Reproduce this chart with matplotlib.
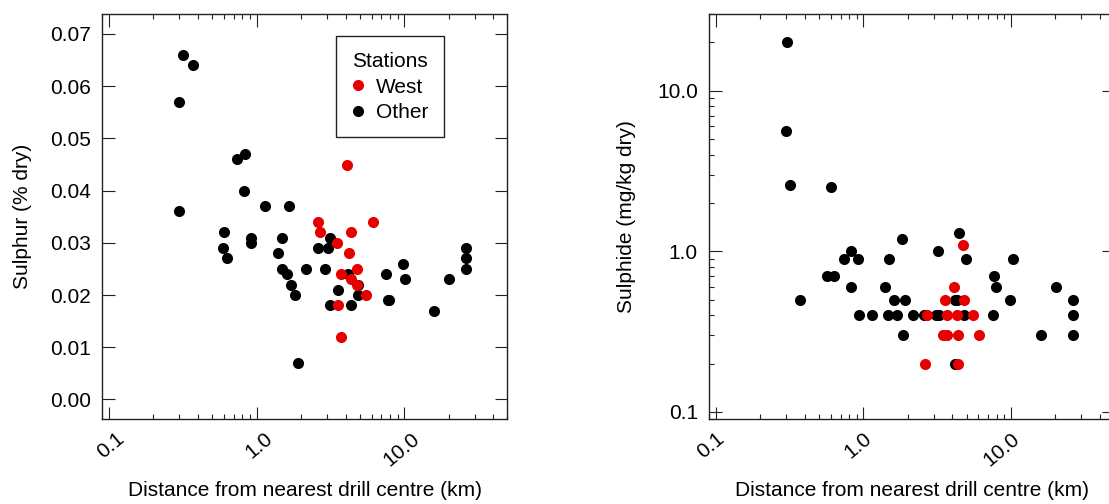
import matplotlib
matplotlib.use("Agg")
import matplotlib.pyplot as plt
from matplotlib.ticker import FixedLocator, FixedFormatter, LogLocator, NullFormatter
from matplotlib.transforms import ScaledTranslation

plt.rcParams["font.family"] = ["Liberation Sans", "DejaVu Sans"]

# Sulphur (% dry) vs distance (km)
sulphur_west_dist = [2.6, 2.7, 3.5, 3.55, 3.7, 3.75, 4.1, 4.25, 4.35, 4.35, 4.75, 4.8, 5.5, 6.1]
sulphur_west = [0.034, 0.032, 0.030, 0.018, 0.024, 0.012, 0.045, 0.028, 0.032, 0.023, 0.022, 0.025, 0.020, 0.034]
sulphur_other_dist = [0.30, 0.30, 0.315, 0.37, 0.59, 0.60, 0.63, 0.74, 0.82, 0.84, 0.915, 0.915,
                      1.14, 1.40, 1.48, 1.48, 1.61, 1.66, 1.70, 1.83, 1.90, 2.16, 2.59, 2.92,
                      3.06, 3.15, 3.15, 3.54, 4.17, 4.35, 4.85, 4.88, 7.56, 7.7, 7.85, 9.85,
                      10.1, 16.0, 20.0, 26.0, 26.0, 26.0]
sulphur_other = [0.036, 0.057, 0.066, 0.064, 0.029, 0.032, 0.027, 0.046, 0.040, 0.047, 0.031, 0.030,
                 0.037, 0.028, 0.031, 0.025, 0.024, 0.037, 0.022, 0.020, 0.007, 0.025, 0.029, 0.025,
                 0.029, 0.031, 0.018, 0.021, 0.024, 0.018, 0.022, 0.020, 0.024, 0.019, 0.019, 0.026,
                 0.023, 0.017, 0.023, 0.029, 0.027, 0.025]

# Sulphide (mg/kg dry) vs distance (km)
sulphide_west_dist = [2.6, 2.7, 3.48, 3.55, 3.7, 3.7, 4.11, 4.28, 4.37, 4.4, 4.73, 4.8, 5.56, 6.07]
sulphide_west = [0.2, 0.4, 0.3, 0.5, 0.4, 0.3, 0.6, 0.4, 0.2, 0.3, 1.1, 0.5, 0.4, 0.3]
sulphide_other_dist = [0.30, 0.305, 0.318, 0.372, 0.57, 0.60, 0.63, 0.74, 0.83, 0.83, 0.925, 0.93,
                       1.15, 1.41, 1.49, 1.47, 1.61, 1.70, 1.82, 1.85, 1.90, 2.18, 2.57, 3.09,
                       3.18, 3.25, 4.15, 4.17, 4.30, 4.44, 4.80, 4.93, 7.59, 7.66, 7.87, 9.84,
                       10.3, 15.9, 20.1, 26.4, 26.4, 26.4]
sulphide_other = [5.6, 20.0, 2.6, 0.5, 0.7, 2.5, 0.7, 0.9, 1.0, 0.6, 0.9, 0.4,
                  0.4, 0.6, 0.9, 0.4, 0.5, 0.4, 1.2, 0.3, 0.5, 0.4, 0.4, 0.4,
                  1.0, 0.4, 0.2, 0.5, 0.5, 1.3, 0.4, 0.9, 0.4, 0.7, 0.6, 0.5,
                  0.9, 0.3, 0.6, 0.5, 0.4, 0.3]

x_ticks = [0.1, 1.0, 10.0]
x_tick_labels = ["0.1", "1.0", "10.0"]
sulphur_ticks = [0.00, 0.01, 0.02, 0.03, 0.04, 0.05, 0.06, 0.07]
sulphide_ticks = [0.1, 1.0, 10.0]
sulphide_tick_labels = ["0.1", "1.0", "10.0"]

RED = "#e60000"
BLACK = "#000000"
FS = 15
MS = 8

fig = plt.figure(figsize=(11.09, 5.04), dpi=100)
ax1 = fig.add_axes([0.0922, 0.168, 0.3654, 0.804])
ax2 = fig.add_axes([0.6393, 0.168, 0.3654, 0.804])


def style_axes(ax):
    ax.set_xscale("log")
    ax.set_xlim(0.09, 50)
    ax.xaxis.set_major_locator(FixedLocator(x_ticks))
    ax.xaxis.set_major_formatter(FixedFormatter(x_tick_labels))
    ax.xaxis.set_minor_locator(LogLocator(base=10, subs=range(2, 10)))
    ax.xaxis.set_minor_formatter(NullFormatter())
    ax.tick_params(which="both", direction="in", top=True, right=True, width=0.8, colors="#222222",
                   labelcolor="black", labelsize=FS)
    ax.tick_params(which="major", length=9)
    ax.tick_params(which="minor", length=3.5)
    ax.tick_params(axis="x", which="major", pad=7)
    ax.tick_params(axis="y", which="major", pad=8)
    for lbl in ax.get_xticklabels():
        lbl.set_rotation(40)
        lbl.set_ha("right")
        lbl.set_va("top")
        lbl.set_rotation_mode("anchor")
        lbl.set_transform(lbl.get_transform() + ScaledTranslation(7 / 100, 0, fig.dpi_scale_trans))
    for sp in ax.spines.values():
        sp.set_linewidth(1.0)
        sp.set_color("#222222")
    ax.set_xlabel("Distance from nearest drill centre (km)", fontsize=FS, labelpad=8)


# left: sulphur
ax1.plot(sulphur_other_dist, sulphur_other, "o", color=BLACK, ms=MS, mew=0, label="Other")
ax1.plot(sulphur_west_dist, sulphur_west, "o", color=RED, ms=MS, mew=0, label="West")
style_axes(ax1)
ax1.set_ylim(-0.0038, 0.0738)
ax1.yaxis.set_major_locator(FixedLocator(sulphur_ticks))
ax1.yaxis.set_major_formatter(FixedFormatter([f"{v:.2f}" for v in sulphur_ticks]))
ax1.set_ylabel("Sulphur (% dry)", fontsize=FS, labelpad=13)

handles, labels = ax1.get_legend_handles_labels()
leg = ax1.legend([handles[1], handles[0]], [labels[1], labels[0]], title="Stations",
                 loc="upper left", bbox_to_anchor=(0.576, 0.946), fontsize=FS, title_fontsize=FS,
                 frameon=True, fancybox=False, framealpha=1, edgecolor="#222222",
                 handlelength=0.6, handletextpad=0.6, labelspacing=0.3, borderpad=0.75,
                 borderaxespad=0)
leg.get_frame().set_linewidth(1.0)
leg._legend_box.sep = 5

# right: sulphide
ax2.plot(sulphide_other_dist, sulphide_other, "o", color=BLACK, ms=MS, mew=0)
ax2.plot(sulphide_west_dist, sulphide_west, "o", color=RED, ms=MS, mew=0)
style_axes(ax2)
ax2.set_yscale("log")
ax2.set_ylim(0.09, 30)
ax2.yaxis.set_major_locator(FixedLocator(sulphide_ticks))
ax2.yaxis.set_major_formatter(FixedFormatter(sulphide_tick_labels))
ax2.yaxis.set_minor_locator(LogLocator(base=10, subs=range(2, 10)))
ax2.yaxis.set_minor_formatter(NullFormatter())
ax2.tick_params(which="major", length=9)
ax2.tick_params(which="minor", length=3.5)
ax2.set_ylabel("Sulphide (mg/kg dry)", fontsize=FS, labelpad=15)

fig.savefig("out.png", dpi=100)
